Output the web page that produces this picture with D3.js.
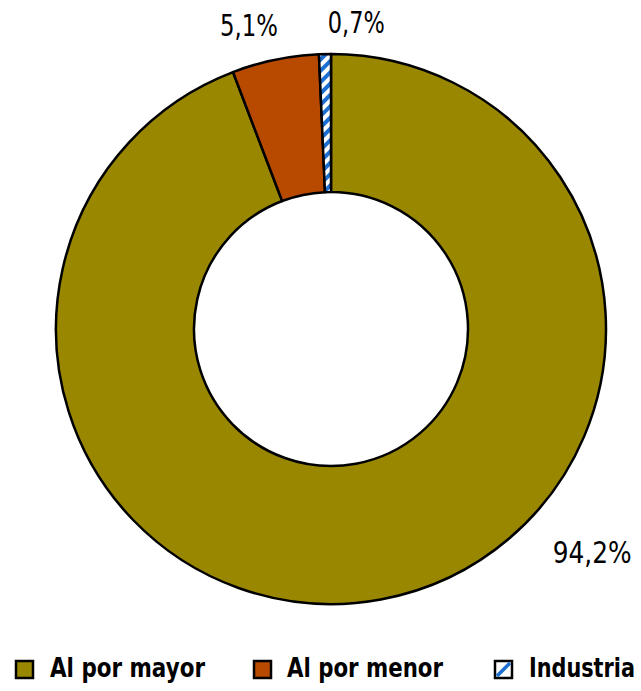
<!DOCTYPE html>
<html>
<head>
<meta charset="utf-8">
<script src="https://cdn.jsdelivr.net/npm/d3@7"></script>
<style>
  html, body { margin: 0; padding: 0; background: #fff; }
  svg { display: block; }
  text { font-family: "DejaVu Sans", "Liberation Sans", sans-serif; fill: #000; }
</style>
</head>
<body>
<svg id="chart" width="641" height="691"></svg>
<script>
// Sales share by channel
const categories = ["Al por mayor", "Al por menor", "Industria"];
const values = [94.2, 5.1, 0.7];
const valueLabels = ["94,2%", "5,1%", "0,7%"];
const colors = ["#9A8700", "#B84A00", "url(#stripes)"];

// Label placement: angle (deg, clockwise from top) and radius from centre
const labelAngles = [130.6, 344.9, 4.7];
const labelRadii = [344, 315, 308];
const labelWidths = [79, 58, 57];

const width = 641, height = 691;
const cx = 331, cy = 329, outerR = 275, innerR = 137;

const svg = d3.select("#chart");

// Squeeze a text horizontally to a condensed width, anchored at (x, y)
function condense(sel, x, y, targetW, anchor) {
  sel.each(function (d, i) {
    const node = this;
    const w = node.getComputedTextLength();
    const k = Math.min(1, targetW(d, i) / w);
    const tx = x(d, i), ty = y(d, i);
    d3.select(node)
      .attr("x", 0).attr("y", 0)
      .attr("text-anchor", anchor)
      .attr("transform", `translate(${tx},${ty}) scale(${k},1)`);
  });
}

const defs = svg.append("defs");
const pat = defs.append("pattern")
  .attr("id", "stripes")
  .attr("patternUnits", "userSpaceOnUse")
  .attr("width", 8).attr("height", 8)
  .attr("patternTransform", "rotate(45)");
pat.append("rect").attr("width", 8).attr("height", 8).attr("fill", "#fff");
pat.append("rect").attr("width", 4).attr("height", 8).attr("fill", "#1E6FD2");

const pie = d3.pie().sort(null).value(d => d);
const arc = d3.arc().innerRadius(innerR).outerRadius(outerR);

const g = svg.append("g").attr("transform", `translate(${cx},${cy})`);
g.selectAll("path.slice")
  .data(pie(values))
  .join("path")
  .attr("class", "slice")
  .attr("d", arc)
  .attr("fill", (d, i) => colors[i])
  .attr("stroke", "#000")
  .attr("stroke-width", 2.5)
  .attr("stroke-linejoin", "round");

const valText = g.selectAll("text.val")
  .data(valueLabels)
  .join("text")
  .attr("class", "val")
  .attr("dominant-baseline", "central")
  .attr("font-size", 31)
  .text(d => d);
condense(valText,
  (d, i) => labelRadii[i] * Math.sin(labelAngles[i] * Math.PI / 180),
  (d, i) => -labelRadii[i] * Math.cos(labelAngles[i] * Math.PI / 180),
  (d, i) => labelWidths[i], "middle");

// Legend
const legendX = [16, 254, 495];
const legendTextX = [50, 287, 529];
const legendTextW = [155, 156, 106];
const leg = svg.append("g").attr("class", "legend");
const items = leg.selectAll("g")
  .data(categories)
  .join("g")
  .attr("transform", (d, i) => `translate(${legendX[i]},661)`);

items.append("rect")
  .attr("width", 17).attr("height", 17)
  .attr("fill", (d, i) => i === 2 ? "#fff" : colors[i])
  .attr("stroke", "#000")
  .attr("stroke-width", 2.5);

items.filter((d, i) => i === 2)
  .append("line")
  .attr("x1", 2).attr("y1", 15).attr("x2", 15).attr("y2", 2)
  .attr("stroke", "#1E6FD2")
  .attr("stroke-width", 3.5);

const legText = items.append("text")
  .attr("font-size", 27)
  .attr("font-weight", "bold")
  .text(d => d);
condense(legText,
  (d, i) => legendTextX[i] - legendX[i],
  () => 16,
  (d, i) => legendTextW[i], "start");
</script>
</body>
</html>
